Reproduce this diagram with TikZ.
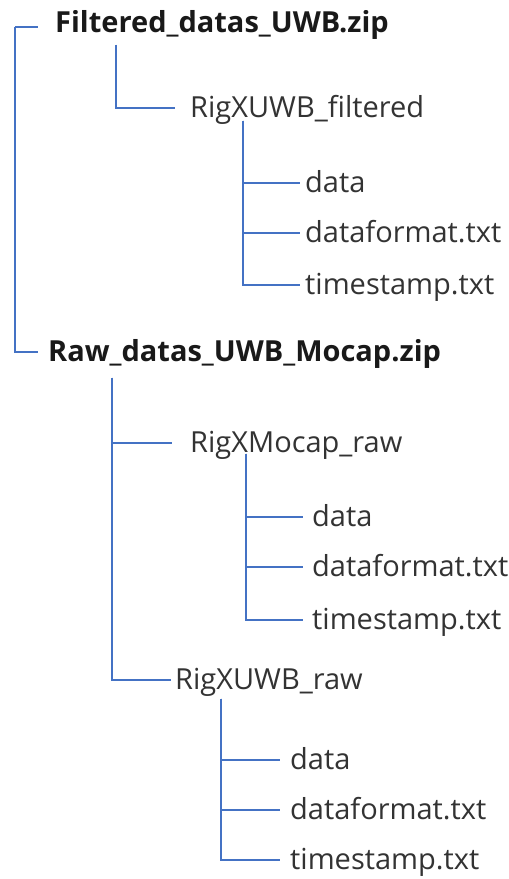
\documentclass[tikz,border=0pt]{standalone}
\usepackage{fontspec}
\setmainfont{Open Sans}
\definecolor{branch}{RGB}{68,114,196}
\definecolor{ink}{RGB}{51,51,51}
\tikzset{entry/.style={anchor=west, inner sep=0pt, text height=26pt, text depth=7pt,
    font=\fontsize{29}{31}\selectfont, text=ink},
  zip/.style={entry, font=\fontsize{29}{31}\selectfont\bfseries, text=black!90},
  tree/.style={draw=branch, line width=1.6pt}}

\begin{document}
\begin{tikzpicture}[x=1pt, y=-1pt]
    \useasboundingbox (0,0) rectangle (509,879);
    \coordinate (root) at (15,27);
    \node[zip] (f) at (55,23) {Filtered\_datas\_UWB.zip};
    \node[entry] (rf) at (190,108) {RigXUWB\_filtered};
    \node[entry] (d1) at (305,183) {data};
    \node[entry] (fmt1) at (305,233) {dataformat.txt};
    \node[entry] (ts1) at (305,285) {timestamp.txt};
    \node[zip] (r) at (48,352) {Raw\_datas\_UWB\_Mocap.zip};
    \node[entry] (rm) at (190,443) {RigXMocap\_raw};
    \node[entry] (d2) at (312,517) {data};
    \node[entry] (fmt2) at (312,567) {dataformat.txt};
    \node[entry] (ts2) at (312,620) {timestamp.txt};
    \node[entry] (ru) at (175,680) {RigXUWB\_raw};
    \node[entry] (d3) at (290,760) {data};
    \node[entry] (fmt3) at (290,810) {dataformat.txt};
    \node[entry] (ts3) at (290,860) {timestamp.txt};
    % root
    \draw[tree, shorten >=17pt] (root) -- (root -| f.west);
    \draw[tree, shorten >=10pt] (root) |- (r.west);
    % first zip
    \coordinate (fs) at ([shift={(61,5)}]f.south west);
    \draw[tree, shorten >=15pt] (fs) |- (rf.west);
    \coordinate (rfs) at ([shift={(53,-4)}]rf.south west);
    \foreach \c in {d1,fmt1,ts1}
        \draw[tree, shorten >=5pt] (rfs) |- (\c.west);
    % second zip
    \coordinate (rs) at ([shift={(64,9)}]r.south west);
    \draw[tree, shorten >=18pt] (rs) |- (rm.west);
    \draw[tree, shorten >=4pt] (rs) |- (ru.west);
    \coordinate (rms) at ([shift={(56,-6)}]rm.south west);
    \foreach \c in {d2,fmt2,ts2}
        \draw[tree, shorten >=9pt] (rms) |- (\c.west);
    \coordinate (rus) at ([shift={(46,2)}]ru.south west);
    \foreach \c in {d3,fmt3,ts3}
        \draw[tree, shorten >=10pt] (rus) |- (\c.west);
\end{tikzpicture}
\end{document}
